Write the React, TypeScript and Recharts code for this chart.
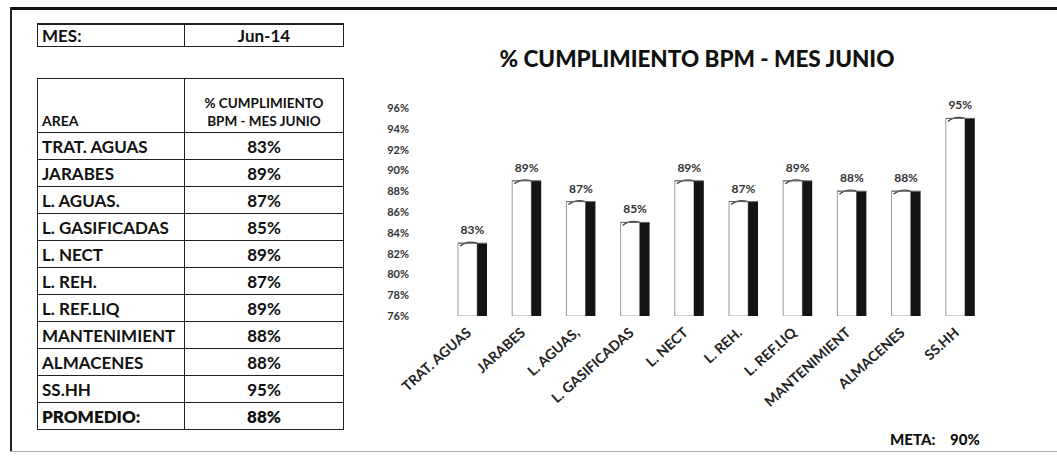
import React from 'react';
import { BarChart, Bar, XAxis, YAxis, LabelList } from 'recharts';

// Areas and June compliance values (%)
const areas = ['TRAT. AGUAS', 'JARABES', 'L. AGUAS.', 'L. GASIFICADAS', 'L. NECT', 'L. REH.', 'L. REF.LIQ', 'MANTENIMIENT', 'ALMACENES', 'SS.HH'];
const axisLabels = ['TRAT. AGUAS', 'JARABES', 'L. AGUAS,', 'L. GASIFICADAS', 'L. NECT', 'L. REH.', 'L. REF.LIQ', 'MANTENIMIENT', 'ALMACENES', 'SS.HH'];
const cumplimiento = [83, 89, 87, 85, 89, 87, 89, 88, 88, 95];
const yTicks = [76, 78, 80, 82, 84, 86, 88, 90, 92, 94, 96];
const promedio = 88;
const meta = 90;
const mes = 'Jun-14';

const chartData = areas.map((a, i) => ({ area: axisLabels[i], value: cumplimiento[i] }));

const FONT = 'Lato, "Open Sans", sans-serif';

const Bar3D = (props: any) => {
    const { x, y, width, height } = props;
    const front = width * 0.66;
    const side = width - front;
    return (
        <g>
            <rect x={x} y={y} width={front} height={height} fill="#fff" stroke="#9a9a9a" strokeWidth={1} />
            <rect x={x + front} y={y} width={side} height={height} fill="#141414" />
            <path d={`M${x + 2},${y + 3} Q${x + front * 0.5},${y - 3} ${x + front},${y}`} fill="none" stroke="#444" strokeWidth={1.3} />
            <line x1={x} y1={y} x2={x + width} y2={y} stroke="#666" strokeWidth={1} />
        </g>
    );
};

const YTick = (props: any) => {
    const { x, y, payload } = props;
    return (
        <text x={x - 28} y={y} dy={4} textAnchor="end" fontSize={11} fontWeight={700} fill="#333" fontFamily={FONT}>
            {payload.value}%
        </text>
    );
};

const XTick = (props: any) => {
    const { x, y, payload } = props;
    return (
        <g transform={`translate(${x},${y + 10})`}>
            <text x={0} y={0} textAnchor="end" fontSize={14} fontWeight={700} fill="#222" fontFamily={FONT} transform="rotate(-42)">
                {payload.value}
            </text>
        </g>
    );
};

const cell: React.CSSProperties = {
    border: '1.5px solid #222',
    padding: '0 4px',
    height: 26,
    fontSize: 17,
    fontWeight: 700,
    color: '#111',
    whiteSpace: 'nowrap',
    overflow: 'hidden',
};

const App: React.FC = () => {
    return (
        <div style={{ position: 'absolute', left: 0, top: 0, width: 1057, height: 456, background: '#fff', fontFamily: FONT, overflow: 'hidden' }}>
            {/* outer frame */}
            <div style={{ position: 'absolute', left: 10, top: 7, width: 1047, height: 3, background: '#111' }} />
            <div style={{ position: 'absolute', left: 10, top: 7, width: 2, height: 445, background: '#222' }} />
            <div style={{ position: 'absolute', left: 10, top: 451, width: 1047, height: 1, background: '#aaa' }} />

            {/* MES table */}
            <table style={{ position: 'absolute', left: 37, top: 23, width: 307, borderCollapse: 'collapse', fontFamily: FONT, tableLayout: 'fixed' }}>
                <tbody>
                    <tr>
                        <td style={{ ...cell, width: 138, height: 21, borderTop: '2px solid #222' }}>MES:</td>
                        <td style={{ ...cell, height: 21, textAlign: 'center', borderTop: '2px solid #222' }}>{mes}</td>
                    </tr>
                </tbody>
            </table>

            {/* Area table */}
            <table style={{ position: 'absolute', left: 37, top: 78, width: 307, borderCollapse: 'collapse', fontFamily: FONT, tableLayout: 'fixed' }}>
                <tbody>
                    <tr>
                        <td style={{ ...cell, width: 138, height: 50, verticalAlign: 'bottom', fontSize: 14, fontWeight: 700, paddingBottom: 3 }}>AREA</td>
                        <td style={{ ...cell, height: 50, textAlign: 'center', verticalAlign: 'bottom', fontSize: 13.5, fontWeight: 700, lineHeight: '18px', paddingBottom: 2 }}>
                            % CUMPLIMIENTO<br />BPM - MES JUNIO
                        </td>
                    </tr>
                    {areas.map((a, i) => (
                        <tr key={a}>
                            <td style={cell}>{a}</td>
                            <td style={{ ...cell, textAlign: 'center' }}>{cumplimiento[i]}%</td>
                        </tr>
                    ))}
                    <tr>
                        <td style={{ ...cell, fontWeight: 800 }}>PROMEDIO:</td>
                        <td style={{ ...cell, textAlign: 'center', fontWeight: 800 }}>{promedio}%</td>
                    </tr>
                </tbody>
            </table>

            {/* Chart */}
            <div style={{ position: 'absolute', left: 350, top: 0 }}>
                <div style={{ position: 'absolute', left: 147, top: 45, width: 400, textAlign: 'center', fontSize: 22.5, fontWeight: 900, color: '#111', fontFamily: FONT, whiteSpace: 'nowrap' }}>
                    % CUMPLIMIENTO BPM - MES JUNIO
                </div>
                <BarChart width={660} height={456} data={chartData} margin={{ top: 108, right: 23, left: 35, bottom: 0 }}>
                    <YAxis
                        domain={[76, 96]}
                        ticks={yTicks}
                        interval={0}
                        width={60}
                        axisLine={false}
                        tickLine={false}
                        tick={<YTick />}
                        allowDataOverflow
                    />
                    <XAxis dataKey="area" axisLine={false} tickLine={false} interval={0} height={140} tick={<XTick />} />
                    <Bar dataKey="value" barSize={29} shape={<Bar3D />} isAnimationActive={false}>
                        <LabelList
                            dataKey="value"
                            position="top"
                            offset={9}
                            formatter={(v: any) => `${v}%`}
                            style={{ fontSize: 12, fontWeight: 700, fill: '#333', fontFamily: FONT }}
                        />
                    </Bar>
                </BarChart>
            </div>

            {/* Meta */}
            <div style={{ position: 'absolute', left: 890, top: 430, fontSize: 15, fontWeight: 900, color: '#111', fontFamily: FONT }}>
                META:
            </div>
            <div style={{ position: 'absolute', left: 950, top: 430, fontSize: 15, fontWeight: 900, color: '#111', fontFamily: FONT }}>
                {meta}%
            </div>
        </div>
    );
};

export default App;
